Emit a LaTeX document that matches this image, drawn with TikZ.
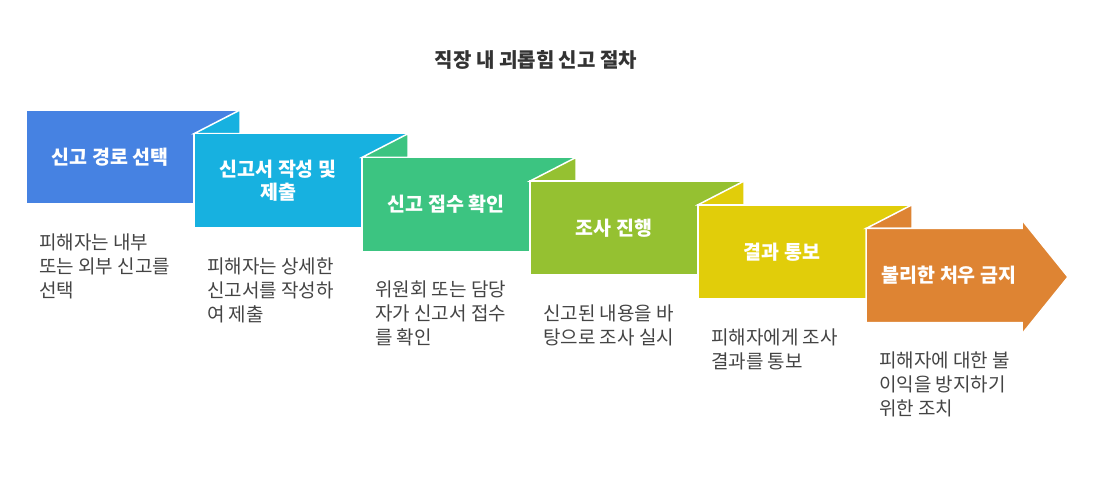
\documentclass[tikz,border=0pt]{standalone}
\usepackage{fontspec}
\setmainfont{Noto Sans CJK KR}
\definecolor{stepA}{HTML}{4682E2}
\definecolor{stepB}{HTML}{17B1E0}
\definecolor{stepC}{HTML}{3CC481}
\definecolor{stepD}{HTML}{95C131}
\definecolor{stepE}{HTML}{E1CD0A}
\definecolor{stepF}{HTML}{DE8433}
\definecolor{descgray}{HTML}{444444}
\definecolor{titlegray}{HTML}{333333}

\begin{document}
\begin{tikzpicture}
	[%%%%%%%%%%%%%%%%%%%%%%%%%%%%%%
	x=1pt,y=-1pt,
	stepline/.style={draw=white,line width=1.5pt},
	steplabel/.style={text=white,font=\bfseries\fontsize{19.5}{22.5}\selectfont,align=center},
	stepdesc/.style={text=descgray,font=\fontsize{19}{24}\selectfont,align=left,anchor=north west,inner sep=0pt},
	]%%%%%%%%%%%%%%%%%%%%%%%%%%%%%%
	
	\useasboundingbox (0,0) rectangle (1094,494);
	\node[font=\bfseries\fontsize{20}{24}\selectfont,text=titlegray] (title) at (536,60) {직장 내 괴롭힘 신고 절차};
	
	\foreach \i/\col/\lab/\txt in {
		0/stepA/{신고 경로 선택}/{피해자는 내부\\또는 외부 신고를\\선택},
		1/stepB/{신고서 작성 및\\제출}/{피해자는 상세한\\신고서를 작성하\\여 제출},
		2/stepC/{신고 접수 확인}/{위원회 또는 담당\\자가 신고서 접수\\를 확인},
		3/stepD/{조사 진행}/{신고된 내용을 바\\탕으로 조사 실시},
		4/stepE/{결과 통보}/{피해자에게 조사\\결과를 통보}}{
		\pgfmathsetmacro{\xa}{26+168*\i}
		\pgfmathsetmacro{\ya}{110+23.7*\i}
		\ifnum\i>0
			\filldraw[fill=\col,stepline] (\xa,\ya) -- ++(46,-23.7) -- ++(0,23.7) -- cycle;
		\fi
		\filldraw[fill=\col,stepline] (\xa,\ya) rectangle ++(214,94);
		\node[steplabel] (s\i) at (\xa+84,\ya+47) {\lab};
		\node[stepdesc] (d\i) at (\xa+13,\ya+123.5) {\txt};
	}
	
	% last step: arrow
	\filldraw[fill=stepF,stepline] (866,228.5) -- ++(46,-23.7) -- ++(0,23.7) -- cycle;
	\filldraw[fill=stepF,stepline] (866,228.5) -- (1022,228.5) -- (1022,220) -- (1068,277)
		-- (1022,334) -- (1022,322.5) -- (866,322.5) -- cycle;
	\node[steplabel] (s5) at (949,275.5) {불리한 처우 금지};
	\node[stepdesc] (d5) at (879,352) {피해자에 대한 불\\이익을 방지하기\\위한 조치};
	
\end{tikzpicture}
\end{document}
